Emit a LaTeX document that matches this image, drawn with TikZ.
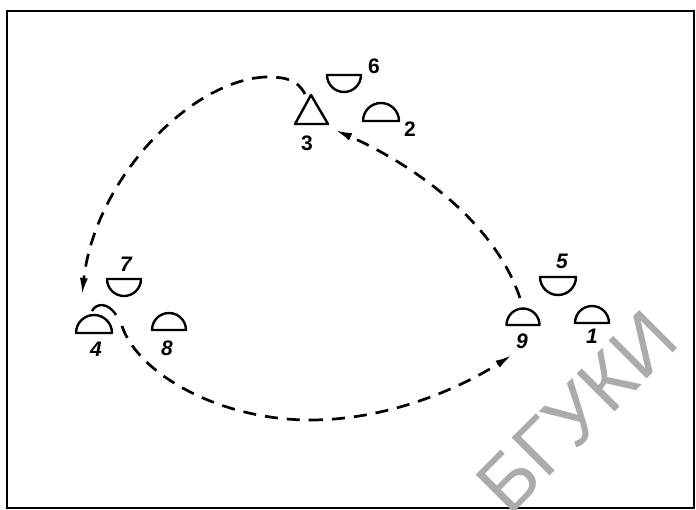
\documentclass[tikz,border=0pt]{standalone}
\usepackage{fontspec}
\setmainfont{Liberation Sans}
\usetikzlibrary{arrows.meta}
\tikzset{
  sym/.style={line width=2.4pt, line join=round},
  lbl/.style={inner sep=0pt, font=\fontsize{21}{21}\selectfont\bfseries},
  ilbl/.style={lbl, font=\fontsize{21}{21}\selectfont\bfseries\itshape},
  pass/.style={line width=2.7pt, dash pattern=on 13pt off 9pt, -{Latex[length=17pt,width=8pt]}},
  passplain/.style={line width=2.7pt, dash pattern=on 13pt off 9pt},
  frame/.style={line width=2.6pt},
  wmark/.style={inner sep=0pt, text=black!33, rotate=45, font=\fontsize{78}{78}\selectfont}
}
\newcommand{\dome}[3]{\draw[sym] (#1pt-#3pt,#2pt) arc (180:0:#3pt) -- cycle;}
\newcommand{\bowl}[3]{\draw[sym] (#1pt-#3pt,#2pt) arc (180:360:#3pt) -- cycle;}
\begin{document}
\begin{tikzpicture}[x=1pt,y=1pt]
\useasboundingbox (0,0) rectangle (696,509);
\fill[white] (0,0) rectangle (696,509);
\begin{scope}
\clip (0,0) rectangle (696,509);
% frame
\draw[frame] (7,1) rectangle (694,498);
% player symbols
\draw[sym] (295,385) -- (311,414) -- (328,385) -- cycle;
\bowl{344}{434}{17}
\dome{381}{388}{18}
\bowl{124}{230}{17}
\dome{94}{176}{18}
\draw[sym] (92,198) .. controls (96,206) and (108,207) .. (116,194);
\dome{169}{179}{17}
\bowl{558}{232}{18}
\dome{523}{184}{16.5}
\dome{592}{186}{17}
% labels
\node[lbl]  (l3) at (307,366) {3};
\node[lbl]  (l6) at (374,443) {6};
\node[lbl]  (l2) at (410,380) {2};
\node[ilbl] (l7) at (126,245) {7};
\node[ilbl] (l4) at (96,160) {4};
\node[ilbl] (l8) at (167,161) {8};
\node[ilbl] (l5) at (562,248) {5};
\node[ilbl] (l9) at (522,168) {9};
\node[ilbl] (l1) at (592,173) {1};
% connector end points
\coordinate (a0) at (305,415);
\coordinate (a1) at (265,432);
\coordinate (a2) at (82,214);
\coordinate (b0) at (520,211);
\coordinate (b1) at (335,379);
\coordinate (c0) at (122,183);
\coordinate (c1) at (310,89);
\coordinate (c2) at (512,154);
% passes
\draw[passplain] (a0) .. controls (297,430) and (285,432) .. (a1);
\draw[pass] (a1) .. controls (190,428) and (95,330) .. (a2);
\draw[pass] (b0) .. controls (490,300) and (390,355) .. (b1);
\draw[passplain] (c0) .. controls (138,135) and (220,89) .. (c1);
\draw[pass] (c1) .. controls (390,89) and (462,122) .. (c2);
% watermark
\node[wmark] (wm) at (577,97) {БГУКИ};
\end{scope}
\end{tikzpicture}
\end{document}
